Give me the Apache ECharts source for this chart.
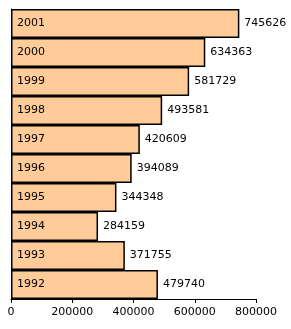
<!DOCTYPE html>
<html><head><meta charset="utf-8">
<script src="https://cdn.jsdelivr.net/npm/echarts@6/dist/echarts.min.js"></script>
<style>html,body{margin:0;padding:0;background:#fff}#c{width:291px;height:329px}</style>
</head><body><div id="c"></div>
<script>
const years = ['1992','1993','1994','1995','1996','1997','1998','1999','2000','2001'];
const values = [479740,371755,284159,344348,394089,420609,493581,581729,634363,745626];
const xTicks = [0,200000,400000,600000,800000];

const chart = echarts.init(document.getElementById('c'));
const font = 'DejaVu Sans, Verdana, sans-serif';
chart.setOption({
  animation:false,
  grid:{left:11,right:35,top:9,bottom:30,containLabel:false},
  xAxis:{type:'value',min:xTicks[0],max:xTicks[xTicks.length-1],interval:200000,
    axisLine:{show:true,lineStyle:{color:'#000',width:1}},
    axisTick:{show:true,length:4,lineStyle:{color:'#000'}},
    splitLine:{show:false},
    axisLabel:{color:'#000',fontFamily:font,fontSize:11,margin:8,formatter:v=>String(v)}},
  yAxis:{type:'category',data:years,
    axisLine:{show:true,lineStyle:{color:'#000'}},axisTick:{show:false},axisLabel:{show:false}},
  series:[{type:'bar',data:values,barCategoryGap:'0%',
    itemStyle:{color:'#FFCC99',borderColor:'#000',borderWidth:1.5},
    label:{show:true,position:'insideLeft',distance:6,formatter:p=>p.name,color:'#000',fontFamily:font,fontSize:11}},
   {type:'bar',data:values,barGap:'-100%',barCategoryGap:'0%',
    itemStyle:{color:'rgba(0,0,0,0)'},silent:true,
    label:{show:true,position:'right',distance:5,formatter:p=>String(p.value),color:'#000',fontFamily:font,fontSize:11}}]
});
</script></body></html>
